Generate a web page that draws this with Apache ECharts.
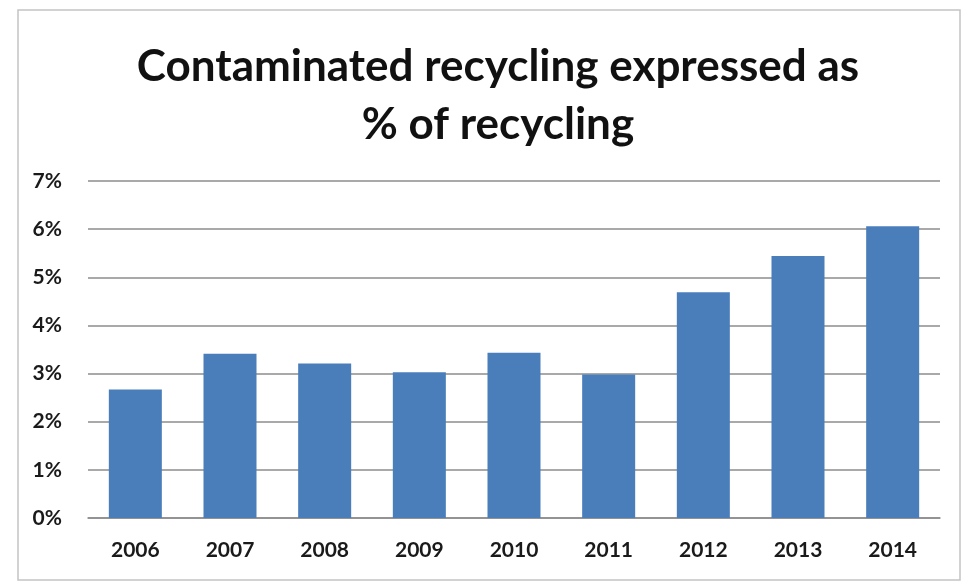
<!DOCTYPE html>
<html>
<head>
<meta charset="utf-8">
<script src="https://cdn.jsdelivr.net/npm/echarts@6/dist/echarts.min.js"></script>
<style>
  html, body { margin: 0; padding: 0; background: #fff; }
  #chart { width: 963px; height: 581px; }
</style>
</head>
<body>
<div id="chart"></div>
<script>
// Contamination share of recycling, by year (percent)
const years = ['2006', '2007', '2008', '2009', '2010', '2011', '2012', '2013', '2014'];
const contaminationPct = [2.67, 3.41, 3.21, 3.03, 3.43, 2.98, 4.69, 5.44, 6.06];
const yTicks = [0, 1, 2, 3, 4, 5, 6, 7];

const chart = echarts.init(document.getElementById('chart'), null, { renderer: 'canvas' });

const font = 'Lato, "Open Sans", "DejaVu Sans", sans-serif';

chart.setOption({
  backgroundColor: '#ffffff',
  animation: false,
  graphic: [{
    type: 'rect',
    shape: { x: 18, y: 10, width: 942, height: 570 },
    style: { fill: 'none', stroke: '#c4c4c4', lineWidth: 1.5 },
    silent: true
  }],
  title: {
    text: 'Contaminated recycling expressed as\n% of recycling',
    left: 493,
    top: 33,
    textAlign: 'center',
    textStyle: {
      fontFamily: font,
      fontWeight: 'bold',
      fontSize: 44,
      lineHeight: 58,
      color: '#111111'
    }
  },
  grid: { left: 88, right: 23, top: 181, bottom: 63, containLabel: false },
  xAxis: {
    type: 'category',
    data: years,
    axisLine: { show: true, lineStyle: { color: '#8c8c8c', width: 1.5 } },
    axisTick: { show: false },
    axisLabel: {
      margin: 22,
      fontFamily: font,
      fontWeight: 'bold',
      fontSize: 21,
      color: '#1a1a1a'
    }
  },
  yAxis: {
    type: 'value',
    min: yTicks[0],
    max: yTicks[yTicks.length - 1],
    interval: 1,
    axisLine: { show: false },
    axisTick: { show: false },
    splitLine: { lineStyle: { color: '#8c8c8c', width: 1.5 } },
    axisLabel: {
      margin: 26,
      fontFamily: font,
      fontWeight: 'bold',
      fontSize: 21,
      color: '#1a1a1a',
      formatter: v => v + '%'
    }
  },
  series: [{
    type: 'bar',
    data: contaminationPct,
    barWidth: '56%',
    itemStyle: { color: '#4a7ebb' }
  }]
});
</script>
</body>
</html>
